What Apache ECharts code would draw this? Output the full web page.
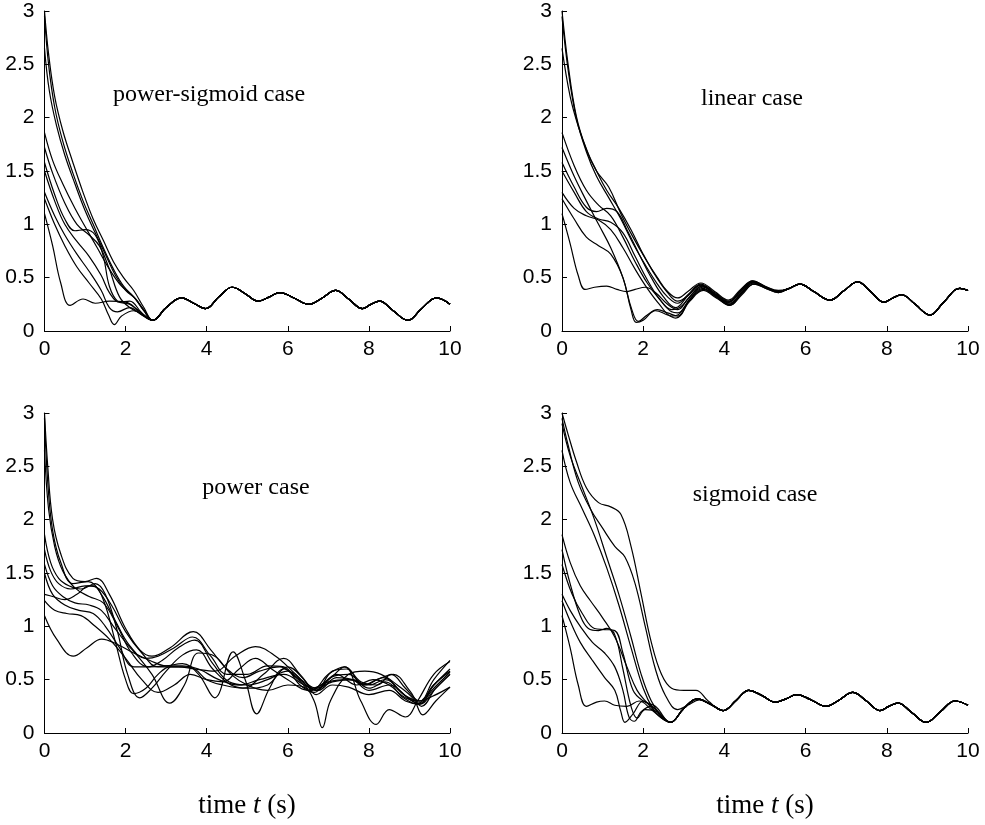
<!DOCTYPE html>
<html>
<head>
<meta charset="utf-8">
<script src="https://cdn.jsdelivr.net/npm/echarts@6/dist/echarts.min.js"></script>
<style>
html,body{margin:0;padding:0;background:#fff;}
#chart{width:985px;height:825px;}
</style>
</head>
<body>
<div id="chart"></div>
<script>
// ---------- tick labels / titles ----------
const xTicks = [0, 2, 4, 6, 8, 10];
const yTicks = [0, 0.5, 1, 1.5, 2, 2.5, 3];
const panelTitles = ['power-sigmoid case', 'linear case', 'power case', 'sigmoid case'];
const xAxisTitle = 'time t (s)';

// ---------- shared tails [t, value] ----------
const tailPowerSigmoid = [[2.67,0.10],[3.0,0.22],[3.38,0.31],[3.68,0.26],[3.97,0.21],[4.3,0.32],[4.63,0.41],[4.95,0.35],[5.27,0.28],[5.55,0.32],[5.8,0.36],[6.15,0.31],[6.52,0.25],[6.85,0.31],[7.18,0.38],[7.5,0.30],[7.84,0.21],[8.05,0.25],[8.26,0.28],[8.6,0.19],[8.96,0.10],[9.3,0.21],[9.67,0.31],[10,0.25]];
const tailSigmoid = [[2.67,0.10],[3.0,0.23],[3.33,0.32],[3.66,0.27],[3.97,0.21],[4.3,0.31],[4.6,0.40],[4.93,0.35],[5.25,0.29],[5.52,0.32],[5.78,0.36],[6.14,0.31],[6.5,0.25],[6.83,0.31],[7.16,0.38],[7.5,0.30],[7.83,0.21],[8.05,0.25],[8.27,0.28],[8.62,0.19],[8.97,0.10],[9.32,0.20],[9.68,0.30],[10,0.26]];
const tailLinear = [[5.6,0.40],[5.86,0.44],[6.2,0.37],[6.6,0.29],[6.95,0.38],[7.28,0.46],[7.6,0.37],[7.93,0.27],[8.15,0.31],[8.36,0.34],[8.7,0.25],[9.06,0.15],[9.4,0.27],[9.8,0.40],[10,0.38]];

// ---------- power-sigmoid case: individual parts ----------
const psCurves = [
  [[0,3.0],[0.1,2.6],[0.25,2.2],[0.45,1.88],[0.7,1.58],[0.95,1.3],[1.2,1.05],[1.45,0.85],[1.7,0.65],[1.95,0.5],[2.2,0.38],[2.45,0.22]],
  [[0,2.95],[0.1,2.5],[0.25,2.1],[0.45,1.78],[0.7,1.48],[0.95,1.22],[1.2,1.0],[1.45,0.78],[1.7,0.58],[1.95,0.42],[2.2,0.32],[2.45,0.2]],
  [[0,2.65],[0.12,2.25],[0.3,1.92],[0.5,1.65],[0.75,1.38],[1.0,1.13],[1.25,0.92],[1.5,0.72],[1.75,0.52],[2.0,0.38],[2.25,0.3],[2.45,0.19]],
  [[0,1.86],[0.2,1.6],[0.45,1.38],[0.75,1.15],[1.0,0.98],[1.3,0.78],[1.6,0.58],[1.9,0.42],[2.2,0.32],[2.45,0.19]],
  [[0,1.72],[0.2,1.48],[0.5,1.2],[0.8,1.0],[1.1,0.9],[1.35,0.8],[1.6,0.58],[1.85,0.32],[2.1,0.22],[2.4,0.16]],
  [[0,1.58],[0.25,1.28],[0.5,1.05],[0.75,0.94],[1.0,0.95],[1.25,0.9],[1.45,0.7],[1.6,0.42],[1.8,0.28],[2.1,0.25],[2.4,0.16]],
  [[0,1.5],[0.25,1.22],[0.5,1.0],[0.8,0.84],[1.1,0.7],[1.4,0.52],[1.6,0.36],[1.85,0.27],[2.1,0.28],[2.4,0.17]],
  [[0,1.3],[0.25,1.08],[0.5,0.9],[0.8,0.72],[1.1,0.56],[1.4,0.38],[1.6,0.22],[1.8,0.18],[2.1,0.22],[2.4,0.15]],
  [[0,1.24],[0.25,1.0],[0.5,0.8],[0.8,0.6],[1.1,0.45],[1.4,0.3],[1.58,0.15],[1.72,0.06],[1.9,0.14],[2.2,0.19],[2.45,0.14]],
  [[0,1.1],[0.2,0.8],[0.4,0.45],[0.63,0.24],[0.95,0.30],[1.25,0.26],[1.6,0.28],[2.0,0.27],[2.3,0.2]]
];

// ---------- linear case: individual parts ----------
const linCurves = [
  [[0,3.0],[0.15,2.5],[0.35,2.02],[0.6,1.7],[0.85,1.5],[1.15,1.35],[1.45,1.1],[1.75,0.88],[2.05,0.68],[2.35,0.5],[2.6,0.37],[2.85,0.31],[3.1,0.37],[3.42,0.45],[3.76,0.37],[4.1,0.29],[4.4,0.39],[4.7,0.47],[5.0,0.42],[5.33,0.38]],
  [[0,2.95],[0.15,2.45],[0.35,2.0],[0.6,1.68],[0.85,1.45],[1.15,1.25],[1.45,1.05],[1.75,0.82],[2.05,0.62],[2.35,0.44],[2.6,0.32],[2.85,0.26],[3.1,0.34],[3.42,0.44],[3.76,0.36],[4.1,0.28],[4.4,0.38],[4.7,0.47],[5.0,0.42],[5.33,0.37]],
  [[0,2.65],[0.2,2.2],[0.4,1.92],[0.65,1.66],[0.85,1.5],[1.1,1.32],[1.4,1.15],[1.7,0.95],[2.0,0.72],[2.3,0.52],[2.6,0.36],[2.85,0.28],[3.1,0.33],[3.42,0.43],[3.76,0.35],[4.1,0.27],[4.4,0.37],[4.7,0.46],[5.0,0.41],[5.33,0.37]],
  [[0,1.86],[0.3,1.55],[0.6,1.32],[0.9,1.18],[1.2,1.08],[1.5,0.88],[1.8,0.65],[2.1,0.45],[2.4,0.3],[2.7,0.2],[2.9,0.22],[3.15,0.32],[3.45,0.42],[3.78,0.34],[4.12,0.26],[4.42,0.36],[4.72,0.46],[5.0,0.41],[5.33,0.37]],
  [[0,1.72],[0.3,1.45],[0.6,1.22],[0.9,1.0],[1.2,0.78],[1.5,0.5],[1.72,0.2],[1.88,0.09],[2.1,0.15],[2.35,0.2],[2.6,0.17],[2.85,0.14],[3.15,0.3],[3.47,0.41],[3.8,0.33],[4.12,0.25],[4.42,0.36],[4.72,0.45],[5.0,0.41],[5.33,0.37]],
  [[0,1.58],[0.3,1.35],[0.6,1.16],[0.85,1.12],[1.1,1.15],[1.35,1.12],[1.6,0.95],[1.9,0.72],[2.2,0.5],[2.5,0.32],[2.8,0.22],[3.1,0.33],[3.42,0.43],[3.76,0.35],[4.1,0.27],[4.4,0.37],[4.7,0.46],[5.0,0.41],[5.33,0.37]],
  [[0,1.5],[0.3,1.3],[0.6,1.12],[0.9,1.05],[1.2,1.02],[1.5,0.92],[1.8,0.7],[2.1,0.48],[2.4,0.3],[2.7,0.18],[2.85,0.17],[3.15,0.3],[3.47,0.4],[3.8,0.32],[4.12,0.25],[4.42,0.35],[4.72,0.45],[5.0,0.41],[5.33,0.37]],
  [[0,1.3],[0.3,1.15],[0.6,1.08],[0.9,1.04],[1.2,0.95],[1.5,0.78],[1.8,0.58],[2.1,0.4],[2.4,0.25],[2.7,0.14],[2.85,0.15],[3.15,0.29],[3.48,0.39],[3.8,0.32],[4.13,0.24],[4.43,0.35],[4.73,0.44],[5.02,0.4],[5.33,0.36]],
  [[0,1.24],[0.3,1.05],[0.6,0.88],[0.9,0.8],[1.2,0.72],[1.5,0.5],[1.7,0.2],[1.83,0.08],[2.0,0.1],[2.3,0.19],[2.6,0.15],[2.8,0.12],[3.15,0.28],[3.48,0.38],[3.8,0.31],[4.13,0.24],[4.43,0.34],[4.73,0.44],[5.02,0.4],[5.33,0.36]],
  [[0,1.1],[0.2,0.82],[0.4,0.52],[0.57,0.39],[0.8,0.41],[1.1,0.42],[1.35,0.39],[1.6,0.37],[1.8,0.39],[2.05,0.41],[2.3,0.36],[2.6,0.25],[2.85,0.2],[3.12,0.31],[3.45,0.42],[3.78,0.34],[4.1,0.27],[4.4,0.37],[4.7,0.46],[5.0,0.41],[5.33,0.37]]
];

// ---------- power case: full curves ----------
const powCurves = [
  [[0,3.0],[0.08,2.5],[0.2,2.0],[0.4,1.68],[0.7,1.45],[1.0,1.42],[1.28,1.45],[1.6,1.3],[2.0,0.98],[2.35,0.78],[2.65,0.72],[3.1,0.8],[3.67,0.95],[4.1,0.78],[4.5,0.6],[4.9,0.52],[5.3,0.58],[5.8,0.62],[6.2,0.52],[6.6,0.4],[7.0,0.55],[7.4,0.62],[7.8,0.48],[8.2,0.45],[8.55,0.55],[8.9,0.42],[9.25,0.3],[9.6,0.5],[10,0.68]],
  [[0,2.95],[0.08,2.35],[0.2,1.9],[0.4,1.6],[0.7,1.4],[1.08,1.42],[1.4,1.3],[1.75,1.05],[2.1,0.82],[2.5,0.7],[2.8,0.72],[3.2,0.8],[3.65,0.9],[4.1,0.72],[4.5,0.55],[5.0,0.55],[5.5,0.63],[5.9,0.62],[6.3,0.45],[6.65,0.38],[7.05,0.52],[7.5,0.55],[7.9,0.45],[8.35,0.52],[8.8,0.38],[9.2,0.28],[9.6,0.45],[10,0.6]],
  [[0,2.65],[0.1,2.1],[0.25,1.75],[0.45,1.52],[0.75,1.36],[1.1,1.28],[1.45,1.22],[1.8,1.0],[2.15,0.75],[2.55,0.62],[2.9,0.68],[3.3,0.8],[3.7,0.87],[4.15,0.65],[4.55,0.48],[5.0,0.45],[5.5,0.5],[6.0,0.58],[6.4,0.48],[6.7,0.42],[7.1,0.48],[7.6,0.5],[8.0,0.42],[8.4,0.48],[8.85,0.33],[9.2,0.27],[9.6,0.42],[10,0.57]],
  [[0,1.86],[0.15,1.6],[0.35,1.45],[0.6,1.38],[0.9,1.35],[1.25,1.4],[1.5,1.3],[1.8,0.95],[2.05,0.55],[2.35,0.33],[2.65,0.42],[3.0,0.58],[3.4,0.73],[3.75,0.78],[4.15,0.6],[4.6,0.45],[5.0,0.42],[5.5,0.45],[6.0,0.62],[6.4,0.5],[6.7,0.36],[7.1,0.45],[7.5,0.43],[8.0,0.36],[8.5,0.4],[8.9,0.3],[9.25,0.27],[9.6,0.4],[10,0.55]],
  [[0,1.72],[0.15,1.52],[0.35,1.4],[0.65,1.35],[1.0,1.38],[1.2,1.38],[1.45,1.25],[1.75,0.85],[2.0,0.5],[2.2,0.37],[2.5,0.42],[2.8,0.55],[3.1,0.62],[3.4,0.62],[3.7,0.6],[4.0,0.5],[4.4,0.45],[4.9,0.42],[5.4,0.55],[5.9,0.7],[6.3,0.55],[6.7,0.4],[7.1,0.58],[7.45,0.6],[7.85,0.45],[8.2,0.5],[8.6,0.55],[9.0,0.4],[9.3,0.25],[9.65,0.42],[10,0.55]],
  [[0,1.58],[0.2,1.38],[0.45,1.28],[0.75,1.22],[1.1,1.2],[1.4,1.15],[1.7,1.0],[2.0,0.85],[2.3,0.72],[2.65,0.55],[3.09,0.28],[3.45,0.45],[3.8,0.75],[4.2,0.72],[4.6,0.55],[5.0,0.45],[5.5,0.4],[6.0,0.45],[6.4,0.43],[6.65,0.3],[6.85,0.05],[7.05,0.3],[7.5,0.55],[7.9,0.58],[8.3,0.55],[8.7,0.45],[9.1,0.32],[9.33,0.17],[9.65,0.3],[10,0.43]],
  [[0,1.5],[0.2,1.3],[0.5,1.2],[0.85,1.15],[1.2,1.12],[1.5,1.0],[1.85,0.8],[2.2,0.62],[2.6,0.62],[3.0,0.63],[3.4,0.65],[3.8,0.55],[4.2,0.33],[4.65,0.76],[4.95,0.5],[5.23,0.18],[5.55,0.42],[5.9,0.6],[6.3,0.5],[6.7,0.4],[7.2,0.55],[7.7,0.45],[8.1,0.5],[8.5,0.45],[8.9,0.33],[9.25,0.3],[9.6,0.45],[10,0.58]],
  [[0,1.3],[0.2,1.28],[0.5,1.25],[0.8,1.3],[1.1,1.38],[1.35,1.35],[1.65,1.2],[2.0,0.95],[2.4,0.75],[2.8,0.62],[3.3,0.62],[3.7,0.6],[4.2,0.58],[4.7,0.72],[5.2,0.81],[5.7,0.72],[6.2,0.55],[6.6,0.42],[7.0,0.5],[7.4,0.62],[7.8,0.3],[8.18,0.08],[8.5,0.22],[8.9,0.15],[9.2,0.3],[9.6,0.55],[10,0.67]],
  [[0,1.24],[0.25,1.15],[0.55,1.12],[0.9,1.1],[1.25,1.0],[1.6,0.88],[2.0,0.7],[2.4,0.5],[2.8,0.38],[3.2,0.45],[3.6,0.55],[4.0,0.5],[4.4,0.48],[4.8,0.6],[5.2,0.7],[5.6,0.6],[6.0,0.5],[6.5,0.4],[7.0,0.48],[7.5,0.5],[8.0,0.45],[8.4,0.5],[8.9,0.35],[9.25,0.3],[9.6,0.35],[10,0.43]],
  [[0,1.1],[0.3,0.88],[0.71,0.72],[1.05,0.8],[1.41,0.88],[1.8,0.83],[2.2,0.75],[2.6,0.68],[3.0,0.63],[3.4,0.63],[3.8,0.6],[4.3,0.5],[4.8,0.45],[5.3,0.5],[5.9,0.55],[6.4,0.45],[6.75,0.4],[7.2,0.52],[7.6,0.5],[8.0,0.4],[8.5,0.45],[9.0,0.32],[9.25,0.27],[9.6,0.45],[10,0.58]]
];

// ---------- sigmoid case: individual parts ----------
const sigCurves = [
  [[0,3.0],[0.15,2.8],[0.35,2.55],[0.6,2.3],[0.9,2.16],[1.2,2.12],[1.45,2.05],[1.7,1.75],[1.95,1.3],[2.2,0.85],[2.45,0.55],[2.7,0.42],[3.0,0.4],[3.3,0.4],[3.6,0.3],[3.97,0.21]],
  [[0,2.95],[0.15,2.7],[0.4,2.35],[0.7,2.1],[1.0,1.92],[1.3,1.75],[1.55,1.65],[1.8,1.4],[2.05,1.0],[2.3,0.6],[2.55,0.35],[2.85,0.22],[3.1,0.26],[3.38,0.31],[3.68,0.26],[3.97,0.21]],
  [[0,2.9],[0.2,2.6],[0.5,2.3],[0.8,2.0],[1.1,1.65],[1.4,1.3],[1.7,0.9],[1.95,0.55],[2.2,0.3],[2.45,0.16]],
  [[0,2.65],[0.2,2.35],[0.5,2.1],[0.8,1.85],[1.1,1.55],[1.4,1.2],[1.7,0.8],[2.0,0.42],[2.25,0.22],[2.45,0.14]],
  [[0,1.86],[0.2,1.6],[0.45,1.38],[0.7,1.24],[1.0,1.08],[1.3,0.9],[1.6,0.62],[1.85,0.4],[2.1,0.28],[2.4,0.16]],
  [[0,1.72],[0.2,1.4],[0.45,1.1],[0.65,0.98],[0.9,0.96],[1.1,0.98],[1.3,0.92],[1.5,0.6],[1.7,0.25],[1.85,0.14],[2.05,0.22],[2.35,0.2]],
  [[0,1.58],[0.25,1.3],[0.5,1.12],[0.8,0.98],[1.05,0.97],[1.3,0.96],[1.5,0.75],[1.75,0.4],[2.0,0.3],[2.3,0.25]],
  [[0,1.3],[0.2,1.15],[0.45,1.0],[0.75,0.85],[1.05,0.75],[1.3,0.62],[1.5,0.4],[1.65,0.15],[1.78,0.11],[1.95,0.2],[2.2,0.25],[2.45,0.15]],
  [[0,1.24],[0.2,1.05],[0.45,0.85],[0.75,0.68],[1.05,0.52],[1.3,0.4],[1.45,0.2],[1.55,0.1],[1.75,0.18],[2.0,0.3],[2.3,0.22]],
  [[0,1.1],[0.2,0.8],[0.4,0.45],[0.6,0.25],[0.85,0.29],[1.05,0.3],[1.3,0.26],[1.6,0.25],[1.9,0.3],[2.2,0.22],[2.45,0.14]]
];

// ---------- build ----------
function withTail(part, tail) {
  if (!tail) return part;
  const last = part[part.length - 1][0];
  return part.concat(tail.filter(p => p[0] > last + 0.05));
}

const grids = [
  { left: 44.5, top: 11, width: 405.5, height: 320 },
  { left: 562, top: 11, width: 406, height: 320 },
  { left: 44.5, top: 413, width: 405.5, height: 320 },
  { left: 562, top: 413, width: 406, height: 320 }
];

const labelFont = { color: '#000', fontSize: 21, fontFamily: '"Liberation Sans", Arial, sans-serif' };

const xAxes = grids.map((g, i) => ({
  gridIndex: i, type: 'value', min: xTicks[0], max: xTicks[xTicks.length - 1], interval: 2,
  axisLine: { show: true, lineStyle: { color: '#000', width: 1 } },
  axisTick: { show: true, inside: true, length: 5, lineStyle: { color: '#000', width: 1 } },
  axisLabel: Object.assign({ margin: 8 }, labelFont),
  splitLine: { show: false }
}));
const yAxes = grids.map((g, i) => ({
  gridIndex: i, type: 'value', min: yTicks[0], max: yTicks[yTicks.length - 1], interval: 0.5,
  axisLine: { show: true, lineStyle: { color: '#000', width: 1 } },
  axisTick: { show: true, inside: true, length: 5, lineStyle: { color: '#000', width: 1 } },
  axisLabel: Object.assign({ margin: 10 }, labelFont),
  splitLine: { show: false }
}));

const panelData = [
  psCurves.map(c => withTail(c, tailPowerSigmoid)),
  linCurves.map(c => withTail(c, tailLinear)),
  powCurves.map(c => c),
  sigCurves.map(c => withTail(c, tailSigmoid))
];

const series = [];
panelData.forEach((curves, gi) => {
  curves.forEach(d => {
    series.push({
      type: 'line', xAxisIndex: gi, yAxisIndex: gi, data: d,
      showSymbol: false, symbol: 'none', smooth: 0.4, silent: true,
      lineStyle: { color: '#000', width: 1.2 }, clip: true
    });
  });
});

const titlePos = [[209, 95], [752, 99], [256, 488], [755, 495]];
const graphics = panelTitles.map((t, i) => ({
  type: 'text', x: titlePos[i][0], y: titlePos[i][1], silent: true,
  style: { text: t, fontSize: 24, fontFamily: '"Liberation Serif", "Times New Roman", serif', fill: '#000', align: 'center', verticalAlign: 'middle' }
}));
[247, 765].forEach(cx => {
  graphics.push({
    type: 'text', x: cx, y: 806, silent: true,
    style: {
      text: 'time {i|t} (s)', fontSize: 27, fontFamily: '"Liberation Serif", "Times New Roman", serif', fill: '#000',
      align: 'center', verticalAlign: 'middle',
      rich: { i: { fontStyle: 'italic', fontSize: 27, fontFamily: '"Liberation Serif", serif', fill: '#000' } }
    }
  });
});

const chart = echarts.init(document.getElementById('chart'), null, { renderer: 'canvas' });
chart.setOption({
  animation: false,
  backgroundColor: '#fff',
  grid: grids,
  xAxis: xAxes,
  yAxis: yAxes,
  series: series,
  graphic: graphics
});
</script>
</body>
</html>
